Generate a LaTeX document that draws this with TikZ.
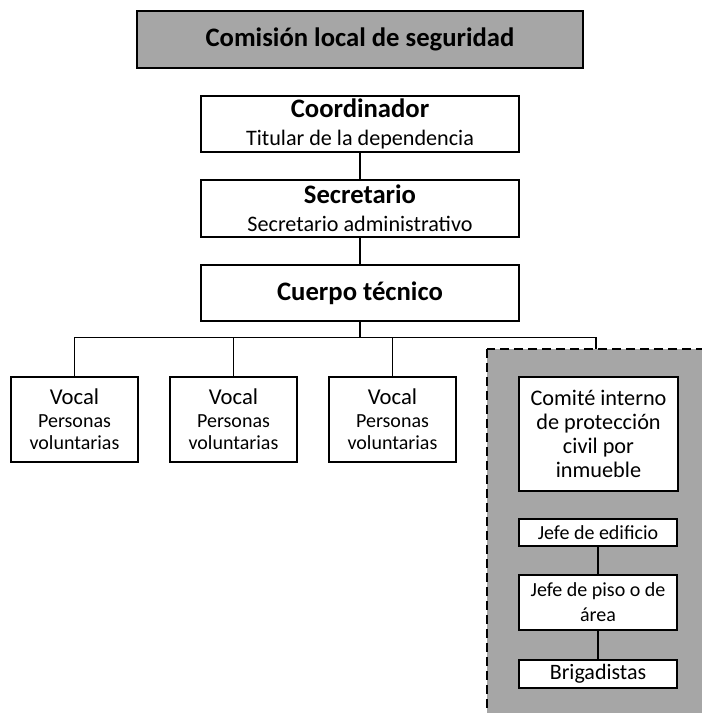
\documentclass[tikz,border=0pt]{standalone}
\usepackage{fontspec}
\setmainfont{Carlito}
\definecolor{grisorg}{RGB}{166,166,166}
\tikzset{
  caja/.style={draw=black, line width=0.9pt, fill=white, inner sep=0pt, align=center},
  enlace/.style={draw=black, line width=0.9pt}
}
\begin{document}
\begin{tikzpicture}[x=0.75pt,y=0.75pt,yscale=-1,xscale=1]
\useasboundingbox (0,0) rectangle (702,713);

%Shape: Rectangle (gray group, dashed)
\begin{scope}
\clip (0,0) rectangle (702,713);
\draw [fill=grisorg, line width=0.9pt, dash pattern=on 7pt off 3.5pt] (487,349) rectangle (712,723);
\end{scope}
\coordinate (grp) at (596,349);

%Shape: Rectangle (title)
\node [caja, fill=grisorg, minimum width=446*0.75pt, minimum height=57*0.75pt] (titulo) at (360,39.5)
  {\fontsize{20}{24}\selectfont\bfseries Comisión local de seguridad};

%Shape: Rectangle
\node [caja, minimum width=318*0.75pt, minimum height=56*0.75pt, font=\fontsize{20}{21}\selectfont] (coord) at (360,124)
  {{\bfseries Coordinador}\\{\fontsize{16.6}{21}\selectfont Titular de la dependencia}};
%Shape: Rectangle
\node [caja, minimum width=318*0.75pt, minimum height=57*0.75pt, font=\fontsize{20}{21}\selectfont] (secr) at (360,208.5)
  {{\bfseries Secretario}\\{\fontsize{16.6}{21}\selectfont Secretario administrativo}};
%Shape: Rectangle
\node [caja, minimum width=318*0.75pt, minimum height=56*0.75pt] (cuerpo) at (360,293)
  {\fontsize{20}{24}\selectfont\bfseries Cuerpo técnico};

%Shape: Rectangle (vocales)
\node [caja, minimum width=127*0.75pt, minimum height=85*0.75pt, font=\fontsize{15}{17}\selectfont] (vocal1) at (74.5,419.5)
  {{\fontsize{17}{17}\selectfont Vocal}\\Personas\\voluntarias};
\node [caja, minimum width=127*0.75pt, minimum height=85*0.75pt, font=\fontsize{15}{17}\selectfont] (vocal2) at (233.5,419.5)
  {{\fontsize{17}{17}\selectfont Vocal}\\Personas\\voluntarias};
\node [caja, minimum width=127*0.75pt, minimum height=85*0.75pt, font=\fontsize{15}{17}\selectfont] (vocal3) at (392.5,419.5)
  {{\fontsize{17}{17}\selectfont Vocal}\\Personas\\voluntarias};

%Shape: Rectangle (comite)
\node [caja, minimum width=159*0.75pt, minimum height=114*0.75pt, font=\fontsize{16.7}{18}\selectfont] (comite) at (598.5,434)
  {Comité interno\\de protección\\civil por\\inmueble};
\node [caja, minimum width=158*0.75pt, minimum height=27*0.75pt, font=\fontsize{15}{17}\selectfont] (jefeed) at (598,532.5)
  {Jefe de edificio};
\node [caja, minimum width=158*0.75pt, minimum height=55*0.75pt, font=\fontsize{15}{18.75}\selectfont] (jefepiso) at (598,602.5)
  {Jefe de piso o de\\área};
\node [caja, minimum width=158*0.75pt, minimum height=28*0.75pt, font=\fontsize{16.5}{18}\selectfont] (brig) at (598,674)
  {Brigadistas};

%Straight Lines
\draw [enlace] (coord) -- (secr);
\draw [enlace] (secr) -- (cuerpo);
\coordinate (bus) at (360,337.7);
\draw [enlace] (cuerpo) -- (bus);
\draw [enlace] (vocal1.north) |- (bus) -| (grp);
\draw [enlace] (vocal2.north) -- (vocal2.north |- bus);
\draw [enlace] (vocal3.north) -- (vocal3.north |- bus);
\draw [enlace] (jefeed) -- (jefepiso);
\draw [enlace] (jefepiso) -- (brig);

\end{tikzpicture}
\end{document}
